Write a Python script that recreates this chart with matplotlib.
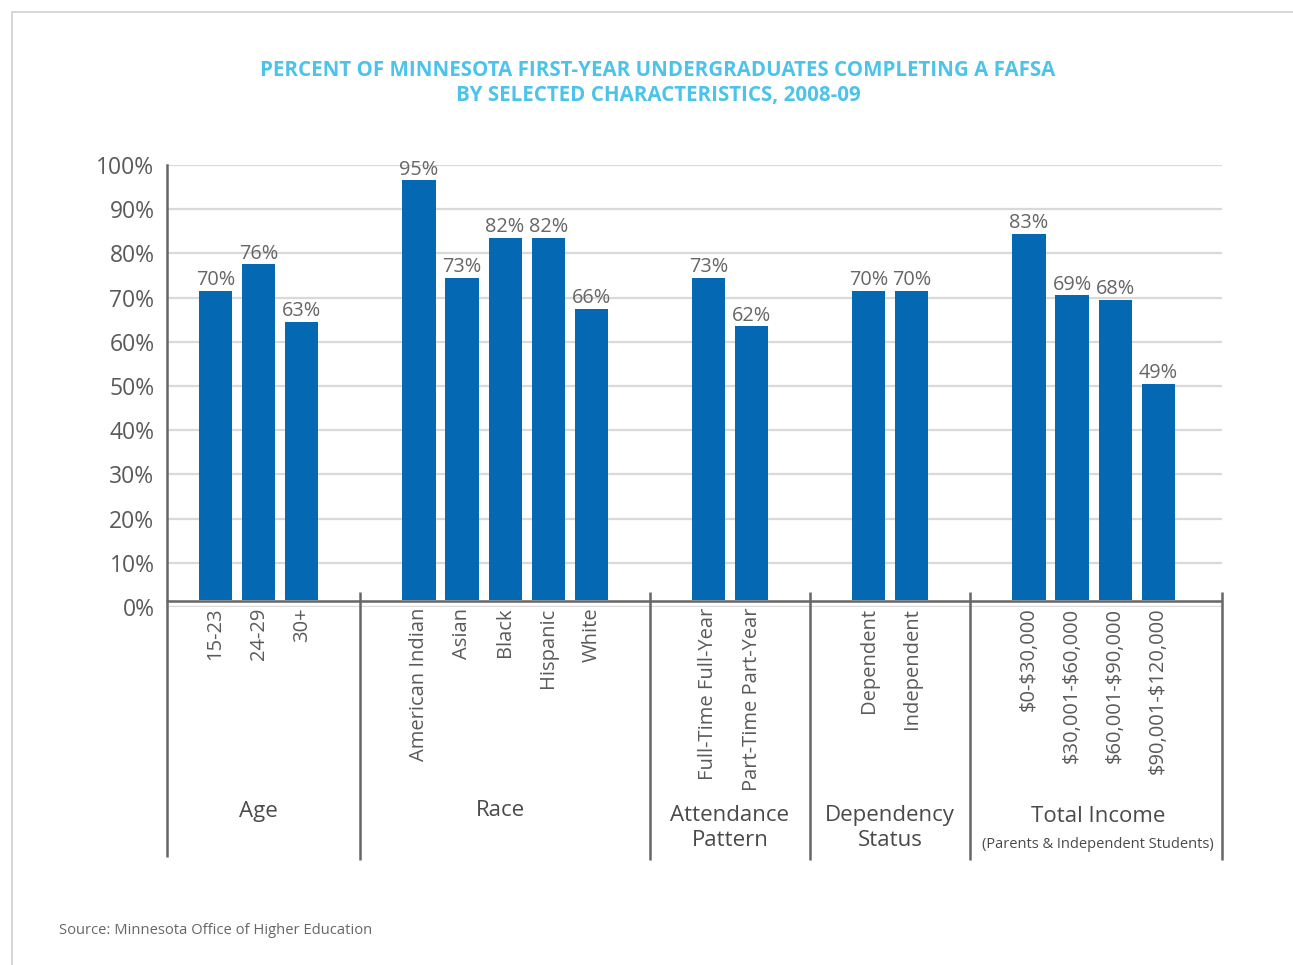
import matplotlib
matplotlib.use("Agg")
import matplotlib.pyplot as plt
from matplotlib.patches import Rectangle
from matplotlib.transforms import blended_transform_factory

# ---- data ----
groups = ["Age", "Race", "Attendance\nPattern", "Dependency\nStatus", "Total Income"]
age_cats = ["15-23", "24-29", "30+"]
age_vals = [70, 76, 63]
race_cats = ["American Indian", "Asian", "Black", "Hispanic", "White"]
race_vals = [95, 73, 82, 82, 66]
attend_cats = ["Full-Time Full-Year", "Part-Time Part-Year"]
attend_vals = [73, 62]
dep_cats = ["Dependent", "Independent"]
dep_vals = [70, 70]
inc_cats = ["$0-$30,000", "$30,001-$60,000", "$60,001-$90,000", "$90,001-$120,000"]
inc_vals = [83, 69, 68, 49]
yticks = [0, 10, 20, 30, 40, 50, 60, 70, 80, 90, 100]

group_cats = [age_cats, race_cats, attend_cats, dep_cats, inc_cats]
group_vals = [age_vals, race_vals, attend_vals, dep_vals, inc_vals]

BAR = "#0468B3"
GRAY_TXT = "#5a5a5a"
FONT = ["Open Sans", "DejaVu Sans"]
plt.rcParams['font.family'] = FONT
plt.rcParams['text.parse_math'] = False

fig = plt.figure(figsize=(12.93, 9.65), dpi=100)
W, H = 1293, 965
AX_TOP, AX_BOT = 165, 607
ax = fig.add_axes([167 / W, 1 - AX_BOT / H, (1222 - 167) / W, (AX_BOT - AX_TOP) / H])


def ay(py):
    return (AX_BOT - py) / (AX_BOT - AX_TOP)


# layout positions
gap = 2.72
base = 1.5  # baseline of the bars sits slightly above the 0% gridline
xs_all, cats_all, vals_all = [], [], []
group_x = []
dividers = []
pos = 0.0
for gi, (cats, vals) in enumerate(zip(group_cats, group_vals)):
    if gi > 0:
        dividers.append(pos - 1 + gap / 2)
        pos = pos - 1 + gap
    xs = [pos + i for i in range(len(cats))]
    group_x.append(sum(xs) / len(xs))
    xs_all += xs
    cats_all += cats
    vals_all += vals
    pos = xs[-1] + 1

xleft, xright = -1.128, xs_all[-1] + 1.48
ax.set_xlim(xleft, xright)
ax.set_ylim(0, 100)

ax.bar(xs_all, vals_all, bottom=base, width=0.77, color=BAR, zorder=3)
for x, v in zip(xs_all, vals_all):
    ax.annotate(f"{v}%", (x, v + base), xytext=(0, 0.5), textcoords="offset points",
                ha="center", va="bottom", fontsize=14.3, color="#666666")

ax.set_yticks(yticks)
ax.set_yticklabels([f"{t}%" for t in yticks], fontsize=16.5, color=GRAY_TXT)
ax.yaxis.grid(True, color="#d9d9d9", linewidth=1.6, zorder=0)
ax.set_axisbelow(True)
ax.tick_params(axis="y", length=0, pad=9)

ax.set_xticks(xs_all)
ax.set_xticklabels(cats_all, rotation=90, fontsize=14.5, color=GRAY_TXT, va="top")
ax.tick_params(axis="x", length=0, pad=0.5)

for s in ["top", "right", "bottom"]:
    ax.spines[s].set_visible(False)
ax.axhline(base - 0.1, color="#666666", lw=1.8, zorder=4)
ax.spines["left"].set_color("#666666")
ax.spines["left"].set_linewidth(1.8)
ax.spines["left"].set_bounds(base, 100)

trans = blended_transform_factory(ax.transData, ax.transAxes)
# left spine extension
ax.plot([xleft, xleft], [ay(600), ay(857)], transform=trans, color="#666666", lw=1.8,
        clip_on=False, solid_capstyle="butt")
for d in dividers + [xright]:
    ax.plot([d, d], [ay(592), ay(860)], transform=trans, color="#666666", lw=1.8,
            clip_on=False, solid_capstyle="butt")

# group labels
for gi, (g, gx) in enumerate(zip(groups, group_x)):
    if "\n" in g:
        ax.text(gx, ay(828), g, transform=trans, ha="center", va="center",
                fontsize=16, color="#4a4a4a", linespacing=1.25)
    elif g == "Total Income":
        ax.text(gx + 0.1, ay(816), g, transform=trans, ha="center", va="center",
                fontsize=16, color="#4a4a4a")
        ax.text(gx + 0.1, ay(844), "(Parents & Independent Students)", transform=trans,
                ha="center", va="center", fontsize=10.5, color="#4a4a4a")
    else:
        dx = -0.12 if g == "Race" else 0
        ax.text(gx + dx, ay(811), g, transform=trans, ha="center", va="center",
                fontsize=16, color="#4a4a4a")

# title
fig.text(658 / W, 1 - 70 / H, "PERCENT OF MINNESOTA FIRST-YEAR UNDERGRADUATES COMPLETING A FAFSA",
         ha="center", va="center", fontsize=14.8, fontweight="bold", color="#4cc3ea")
fig.text(658 / W, 1 - 96 / H, "BY SELECTED CHARACTERISTICS, 2008-09",
         ha="center", va="center", fontsize=14.8, fontweight="bold", color="#4cc3ea")

# source
fig.text(59 / W, 1 - 931 / H, "Source: Minnesota Office of Higher Education",
         ha="left", va="center", fontsize=10.6, color="#666666")

# frame
fig.patches.append(Rectangle((12 / W, -0.1), 1.2, 1 - 12 / H + 0.1, transform=fig.transFigure,
                             fill=False, edgecolor="#d0d0d0", linewidth=1.2))

fig.savefig("out.png", dpi=100)
